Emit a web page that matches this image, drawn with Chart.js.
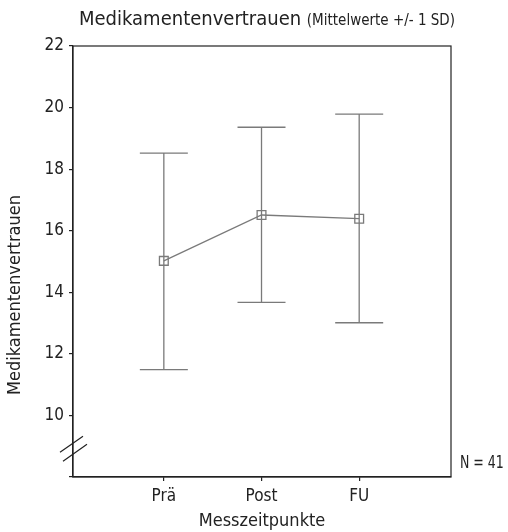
<!DOCTYPE html>
<html>
<head>
<meta charset="utf-8">
<script src="https://cdn.jsdelivr.net/npm/chart.js@4"></script>
<style>
  html, body { margin: 0; padding: 0; background: #fff; }
  #wrap { width: 508px; height: 532px; }
</style>
</head>
<body>
<div id="wrap"><canvas id="myChart" width="508" height="532"></canvas></div>
<script>
// Werte
const labels = ['Prä', 'Post', 'FU'];
const means = [15.02, 16.51, 16.39];
const upper = [18.52, 19.36, 19.79];
const lower = [11.49, 13.67, 13.01];
const yTicks = [8, 10, 12, 14, 16, 18, 20, 22];

const FONT = "'Liberation Sans Narrow', 'DejaVu Sans Condensed', sans-serif";
const GREY = '#7a7a7a';

// Fehlerbalken (+/- 1 SD)
const errorBars = {
  id: 'errorBars',
  beforeDatasetsDraw(chart) {
    const ctx = chart.ctx;
    const x = chart.scales.x, y = chart.scales.y;
    ctx.save();
    ctx.strokeStyle = GREY;
    ctx.lineWidth = 1.3;
    labels.forEach((l, i) => {
      const px = x.getPixelForValue(i + 1);
      const top = y.getPixelForValue(upper[i]);
      const bot = y.getPixelForValue(lower[i]);
      ctx.beginPath();
      ctx.moveTo(px, top); ctx.lineTo(px, bot);
      ctx.moveTo(px - 24, top); ctx.lineTo(px + 24, top);
      ctx.moveTo(px - 24, bot); ctx.lineTo(px + 24, bot);
      ctx.stroke();
    });
    ctx.restore();
  }
};

// Rahmen, Titel, Achsentitel, Achsenbruch, N
const extras = {
  id: 'extras',
  afterDraw(chart) {
    const ctx = chart.ctx;
    const a = chart.chartArea;
    const y = chart.scales.y;
    ctx.save();
    ctx.strokeStyle = '#222';
    ctx.lineWidth = 1.2;
    ctx.strokeRect(a.left, a.top, a.right - a.left, a.bottom - a.top);

    // Achsenbruch
    const yb = y.getPixelForValue(9);
    ctx.beginPath();
    ctx.moveTo(a.left - 13, yb + 6); ctx.lineTo(a.left + 10, yb - 10);
    ctx.moveTo(a.left - 10, yb + 15); ctx.lineTo(a.left + 14, yb - 2);
    ctx.stroke();

    ctx.fillStyle = '#222';
    ctx.textBaseline = 'middle';

    // Titel in zwei Schriftgroessen
    const t1 = 'Medikamentenvertrauen ';
    const t2 = '(Mittelwerte +/- 1 SD)';
    ctx.font = '20px ' + FONT;
    const w1 = ctx.measureText(t1).width;
    ctx.font = '15px ' + FONT;
    const w2 = ctx.measureText(t2).width;
    const x0 = 267 - (w1 + w2) / 2;
    ctx.textAlign = 'left';
    ctx.font = '20px ' + FONT;
    ctx.fillText(t1, x0, 20);
    ctx.font = '15px ' + FONT;
    ctx.fillText(t2, x0 + w1, 21);

    // N (schmal gestaucht wie im Original)
    ctx.save();
    ctx.translate(460, 464);
    ctx.scale(0.82, 1);
    ctx.font = '17px ' + FONT;
    ctx.fillText('N = 41', 0, 0);
    ctx.restore();

    // x-Achsentitel
    ctx.textAlign = 'center';
    ctx.font = '18px ' + FONT;
    ctx.fillText('Messzeitpunkte', (a.left + a.right) / 2, 521);

    // y-Achsentitel
    ctx.translate(15, 295);
    ctx.rotate(-Math.PI / 2);
    ctx.fillText('Medikamentenvertrauen', 0, 0);
    ctx.restore();
  }
};

const config = {
  type: 'line',
  data: {
    datasets: [{
      label: 'Mittelwert',
      data: means.map((m, i) => ({ x: i + 1, y: m })),
      borderColor: GREY,
      borderWidth: 1.3,
      pointStyle: 'rect',
      pointRadius: 6.2,
      pointBorderWidth: 1.3,
      pointBorderColor: GREY,
      pointBackgroundColor: 'rgba(0,0,0,0)',
      tension: 0
    }]
  },
  options: {
    responsive: false,
    animation: false,
    layout: { padding: { left: 0, top: 46, right: 57, bottom: 0 } },
    plugins: {
      legend: { display: false },
      tooltip: { enabled: false }
    },
    scales: {
      x: {
        type: 'linear',
        min: 0.07,
        max: 3.94,
        afterBuildTicks: (s) => { s.ticks = labels.map((l, i) => ({ value: i + 1 })); },
        afterFit: (s) => { s.height = 532 - 477; },
        ticks: {
          callback: (v) => labels[v - 1],
          font: { family: FONT, size: 17 },
          color: '#222',
          padding: 5,
          maxRotation: 0
        },
        grid: { drawOnChartArea: false, drawTicks: true, tickLength: 4, color: '#222', lineWidth: 1.2 },
        border: { display: true, color: '#222', width: 1.2 }
      },
      y: {
        min: 8,
        max: 22,
        afterBuildTicks: (s) => { s.ticks = yTicks.map(v => ({ value: v })); },
        afterFit: (s) => { s.width = 73; },
        ticks: {
          callback: (v) => (v === 8 ? '' : v),
          font: { family: FONT, size: 17 },
          color: '#222',
          padding: 5
        },
        grid: { drawOnChartArea: false, drawTicks: true, tickLength: 4, color: '#222', lineWidth: 1.2 },
        border: { display: true, color: '#222', width: 1.2 }
      }
    }
  },
  plugins: [errorBars, extras]
};

new Chart(document.getElementById('myChart'), config);
</script>
</body>
</html>
